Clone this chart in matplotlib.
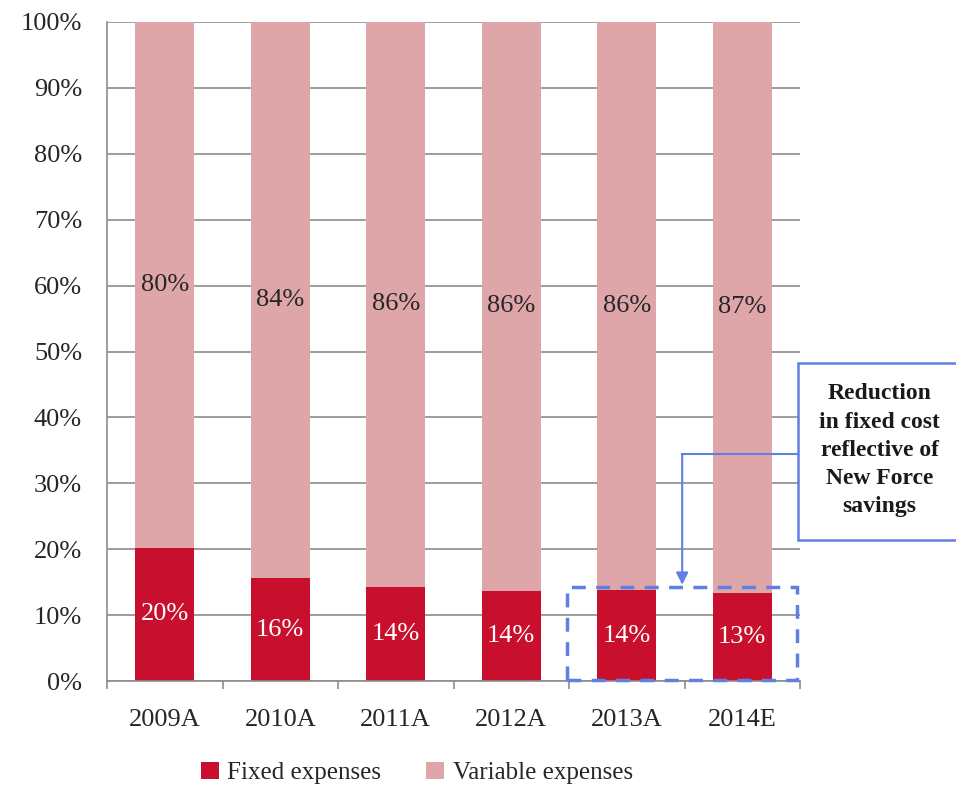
import matplotlib
matplotlib.use("Agg")
import matplotlib.pyplot as plt
from matplotlib.patches import Rectangle
from matplotlib.ticker import FuncFormatter

categories = ["2009A", "2010A", "2011A", "2012A", "2013A", "2014E"]
fixed = [20.2, 15.6, 14.3, 13.7, 13.8, 13.4]
variable = [100 - f for f in fixed]
fixed_labels = ["20%", "16%", "14%", "14%", "14%", "13%"]
variable_labels = ["80%", "84%", "86%", "86%", "86%", "87%"]
series_names = ["Fixed expenses", "Variable expenses"]
annotation_text = "Reduction\nin fixed cost\nreflective of\nNew Force\nsavings"

C_FIXED = "#C8102E"
C_VAR = "#DFA6AA"
C_BLUE = "#5F7FE3"
GRID = "#8C8C8C"
FS = 19

plt.rcParams["font.family"] = ["Liberation Serif", "DejaVu Serif"]

fig = plt.figure(figsize=(9.56, 7.92), dpi=100)
ax = fig.add_axes([107 / 956, 1 - 681 / 792, 693 / 956, 659 / 792])

x = list(range(len(categories)))
w = 0.51
ax.bar(x, fixed, w, color=C_FIXED, label=series_names[0], zorder=2)
ax.bar(x, variable, w, bottom=fixed, color=C_VAR, label=series_names[1], zorder=2)

for i in x:
    ax.text(i, fixed[i] / 2, fixed_labels[i], ha="center", va="center",
            color="white", fontsize=FS, zorder=3)
    ax.text(i, fixed[i] + variable[i] / 2, variable_labels[i], ha="center",
            va="center", color="#262626", fontsize=FS, zorder=3)

ax.set_xlim(-0.5, len(categories) - 0.5)
ax.set_ylim(0, 100)
ax.set_yticks(range(0, 101, 10))
ax.yaxis.set_major_formatter(FuncFormatter(lambda v, p: f"{int(v)}%"))
ax.set_xticks(x)
ax.set_xticklabels(categories)
ax.set_xticks([i - 0.5 for i in range(len(categories) + 1)], minor=True)
ax.tick_params(axis="x", which="major", length=0, pad=20, labelsize=FS, colors="#262626")
ax.tick_params(axis="x", which="minor", length=6, color=GRID, width=1.2)
ax.tick_params(axis="y", length=0, pad=18, labelsize=FS, colors="#262626")
ax.grid(axis="y", color=GRID, linewidth=1.2, zorder=0)
for s in ["top", "right"]:
    ax.spines[s].set_visible(False)
for s in ["left", "bottom"]:
    ax.spines[s].set_color(GRID)
    ax.spines[s].set_linewidth(1.2)

# highlight box around last two bars
rect_top = max(fixed[4:]) + 0.5
ax.add_patch(Rectangle((3.48, 0.15), 1.99, rect_top - 0.15, fill=False,
                       edgecolor=C_BLUE, linestyle=(0, (4, 3)), linewidth=2.5,
                       zorder=4, clip_on=False))

# callout box
ax.add_patch(Rectangle((5.48, 21.4), 1.5, 26.9, fill=True, facecolor="white",
                       edgecolor=C_BLUE, linewidth=1.8, zorder=4, clip_on=False))
ax.text(6.19, 35.0, annotation_text, ha="center", va="center", fontsize=17,
        fontweight="bold", color="#1a1a1a", linespacing=1.45, zorder=5,
        clip_on=False)

# connector
ax.plot([5.48, 4.48], [34.4, 34.4], color=C_BLUE, linewidth=1.5, zorder=4,
        clip_on=False)
ax.annotate("", xy=(4.48, rect_top + 0.3), xytext=(4.48, 34.4),
            arrowprops=dict(arrowstyle="-|>", color=C_BLUE, lw=1.5,
                            mutation_scale=18, shrinkA=0, shrinkB=0),
            zorder=4)

leg = fig.legend(loc="center", bbox_to_anchor=(417 / 956, 1 - 773 / 792),
                 ncol=2, frameon=False, fontsize=18, handlelength=0.7,
                 handleheight=0.7, handletextpad=0.35, columnspacing=1.8)
for t in leg.get_texts():
    t.set_color("#262626")

fig.savefig("out.png", dpi=100)
